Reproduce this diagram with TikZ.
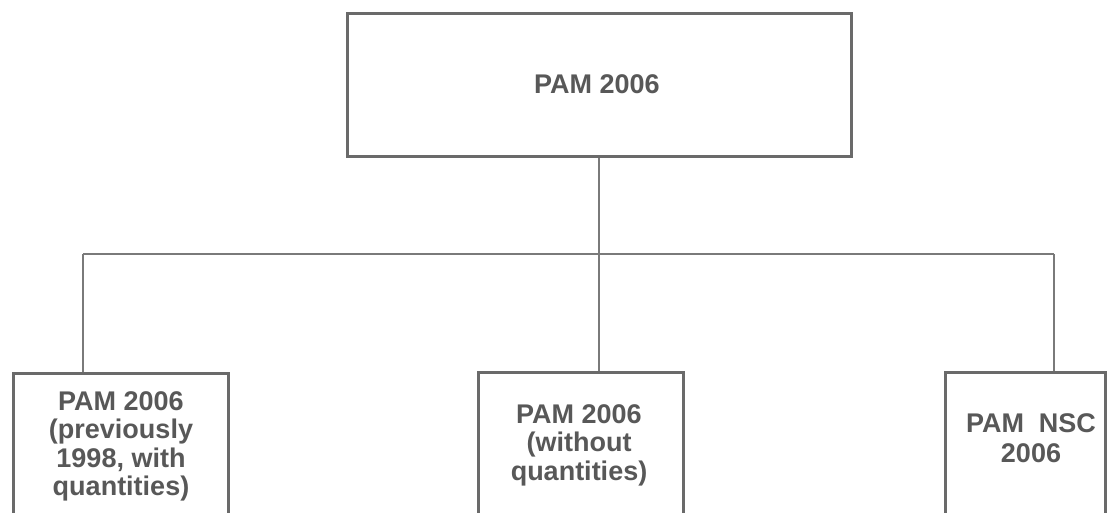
\documentclass[tikz,border=0pt]{standalone}
\usepackage{fontspec}
\setmainfont{Liberation Sans}
\definecolor{boxgray}{HTML}{6A6A6A}
\definecolor{linegray}{HTML}{7A7A7A}
\definecolor{textgray}{HTML}{585858}
\tikzset{
  box/.style={draw=boxgray, line width=3pt, fill=none, inner sep=0pt},
  conn/.style={draw=linegray, line width=1.3pt},
  lab/.style={text=textgray, align=center, inner sep=0pt, font=\bfseries\fontsize{27}{28.5}\selectfont},
  biglab/.style={text=textgray, align=center, inner sep=0pt, font=\bfseries\fontsize{27}{30}\selectfont}
}
\begin{document}
\begin{tikzpicture}[x=1pt,y=-1pt]
\useasboundingbox (0,0) rectangle (1108,512);
\clip (0,0) rectangle (1108,512);
\fill[white] (0,0) rectangle (1108,512);
% boxes
\node[box, minimum width=504pt, minimum height=143pt] (top) at (599,84.5) {};
\node[box, minimum width=215pt, minimum height=160pt] (left) at (120.5,453) {};
\node[box, minimum width=205pt, minimum height=160pt] (mid) at (580.5,452) {};
\node[box, minimum width=160pt, minimum height=160pt] (right) at (1025,452) {};
% labels
\node[biglab] (toplab) at (597,84) {PAM 2006};
\node[lab, anchor=north] (leftlab) at (121,391) {PAM 2006\\(previously\\1998, with\\quantities)};
\node[lab, anchor=north] (midlab) at (579,404) {PAM 2006\\(without\\quantities)};
\node[biglab, anchor=north] (rightlab) at (1031,413) {PAM~ NSC\\2006};
% connectors
\coordinate (bus) at (599,254);
\coordinate (bL) at (83,254);
\coordinate (bR) at (1054,254);
\draw[conn] (top.south) -- (bus);
\draw[conn] (bL) -- (bR);
\draw[conn] (bL) -- (bL |- left.north);
\draw[conn] (bus) -- (bus |- mid.north);
\draw[conn] (bR) -- (bR |- right.north);
\end{tikzpicture}
\end{document}
